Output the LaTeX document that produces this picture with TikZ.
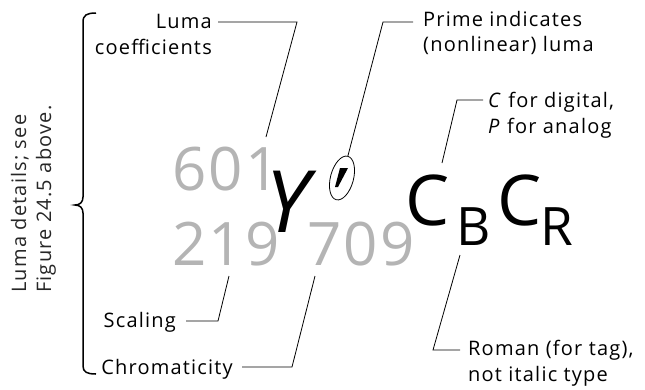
\documentclass[tikz,border=0pt]{standalone}
\usepackage{fontspec}
\setmainfont{Open Sans}
\newfontfamily\lblfont[LetterSpace=6]{Open Sans}
\newfontfamily\digfont[LetterSpace=4]{Open Sans}
\definecolor{numgray}{RGB}{180,180,180}
\begin{document}
\begin{tikzpicture}[x=1pt,y=-1pt,
  lbl/.style={font=\lblfont\fontsize{20}{25}\selectfont, inner sep=0pt},
  side/.style={font=\lblfont\fontsize{20}{25}\selectfont, inner sep=0pt, rotate=90, anchor=base west, text=black!85},
  lead/.style={line width=0.8pt},
  digit/.style={font=\digfont\fontsize{60}{60}\selectfont, text=numgray, inner sep=0pt, anchor=base west},
  bigY/.style={font=\fontsize{86}{86}\selectfont\itshape, inner sep=0pt, anchor=base west},
  bigC/.style={font=\fontsize{70}{70}\selectfont, inner sep=0pt, anchor=base west},
  subs/.style={font=\fontsize{53}{53}\selectfont, inner sep=0pt, anchor=base west}]
\useasboundingbox (0,0) rectangle (645,389);

% brace
\draw[line width=1.5pt] (96,13) .. controls (87,13) and (83,15) .. (83,22) -- (83,197)
  .. controls (83,202) and (80,205) .. (75,205) .. controls (80,205) and (83,208) .. (83,213)
  -- (83,366) .. controls (83,372) and (87,374) .. (96,374);

% rotated side text
\node[side] (side1) at (26,293) {Luma details; see};
\node[side] (side2) at (51,293) {Figure 24.5 above.};

% big numbers and letters
\node[digit] (n601) at (172,190) {601};
\node[digit] (n219) at (172,265) {219};
\node[digit] (n709) at (307,265) {709};
\node[bigY] (Y) at (265,232) {Y};
% prime in an ellipse
\coordinate (pr) at (342,178);
\coordinate (prTop) at (347.8,156.3);
\draw[line width=0.8pt, rotate around={-15:(pr)}] (pr) ellipse [x radius=11.5, y radius=22.5];
\fill (340,168) -- (348,168) -- (338,187) -- (335,187) -- cycle;
\node[bigC] (C1) at (405,225) {C};
\node[subs] (B) at (456,245) {B};
\node[bigC] (C2) at (497,225) {C};
\node[subs] (R) at (540,245) {R};

% labels
\node[lbl, anchor=base east] (luma1) at (212,28) {Luma};
\node[lbl, anchor=base east] (luma2) at (212,54) {coefficients};
\node[lbl, anchor=base west] (prime1) at (423,26) {Prime indicates};
\node[lbl, anchor=base west] (prime2) at (423,51) {(nonlinear) luma};
\node[lbl, anchor=base west] (cp1) at (488,107) {\textit{C} for digital,};
\node[lbl, anchor=base west] (cp2) at (488,133) {\textit{P} for analog};
\node[lbl, anchor=base west] (rom1) at (468,355) {Roman (for tag),};
\node[lbl, anchor=base west] (rom2) at (468,381) {not italic type};
\node[lbl, anchor=base east] (scal) at (176,327) {Scaling};
\node[lbl, anchor=base east] (chrom) at (233,374) {Chromaticity};

% leader coordinates
\coordinate (kLuma) at (297,22);
\coordinate (tLuma) at (266,137);
\coordinate (kPrime) at (383,22);
\coordinate (kC) at (457,100);
\coordinate (tC) at (442,163);
\coordinate (kRom) at (433,350);
\coordinate (tRom) at (460,255);
\coordinate (kScal) at (218,321);
\coordinate (tScal) at (229,276);
\coordinate (kChrom) at (292,367);
\coordinate (tChrom) at (315,276);

\draw[lead] (218,22) -- (kLuma) -- (tLuma);
\draw[lead] (413,22) -- (kPrime) -- (prTop);
\draw[lead] (483,100) -- (kC) -- (tC);
\draw[lead] (460,350) -- (kRom) -- (tRom);
\draw[lead] (186,321) -- (kScal) -- (tScal);
\draw[lead] (242,367) -- (kChrom) -- (tChrom);
\end{tikzpicture}
\end{document}
